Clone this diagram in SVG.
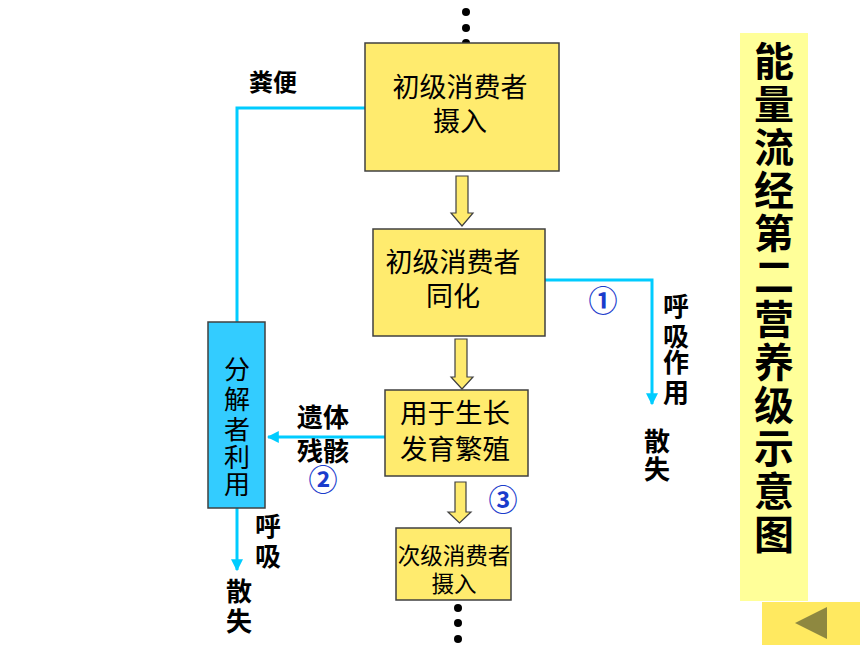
<svg xmlns="http://www.w3.org/2000/svg" width="860" height="645" viewBox="0 0 860 645">
<style>
.box{fill:#FFEB6E;stroke:#404040;stroke-width:1.5}
.dec{fill:#33CCFF;stroke:#404040;stroke-width:1.5}
.t{font-family:"Noto Sans CJK SC","Liberation Sans",sans-serif;fill:#000;text-anchor:middle}
.b{font-weight:bold}
.num{font-family:"Noto Sans CJK SC","DejaVu Sans",sans-serif;fill:#1A3CCC;text-anchor:middle;font-size:29px;font-weight:bold}
.flow{fill:none;stroke:#00CCFF;stroke-width:3}
.blk{fill:#FFEB6E;stroke:#404040;stroke-width:1.2}
.dot{fill:#000}
</style>
<defs>
<marker id="ah" viewBox="0 0 10 10" refX="9" refY="5" markerWidth="4" markerHeight="4" orient="auto" markerUnits="strokeWidth">
<path d="M0,0 L10,5 L0,10 z" fill="#00CCFF"/>
</marker>
</defs>
<rect width="860" height="645" fill="#fff"/>

<g id="title">
<rect x="740" y="33" width="68" height="568" fill="#FFFF99"/>
<text class="t b" font-size="40" x="774">
<tspan x="774" y="76">能</tspan><tspan x="774" y="119">量</tspan><tspan x="774" y="162">流</tspan><tspan x="774" y="205">经</tspan><tspan x="774" y="248">第</tspan><tspan x="774" y="291">二</tspan><tspan x="774" y="334">营</tspan><tspan x="774" y="377">养</tspan><tspan x="774" y="420">级</tspan><tspan x="774" y="463">示</tspan><tspan x="774" y="506">意</tspan><tspan x="774" y="549">图</tspan>
</text>
</g>

<g id="back">
<rect x="762" y="602" width="98" height="43" fill="#FFE960"/>
<polygon points="795,623 827,607 827,639" fill="#8E8840"/>
</g>

<g id="dots-top">
<circle class="dot" cx="466" cy="12" r="4"/>
<circle class="dot" cx="466" cy="28" r="4"/>
<circle class="dot" cx="466" cy="43" r="4"/>
</g>

<g id="connectors">
<polyline class="flow" points="365,108 237,108 237,355"/>
<polyline class="flow" points="545,280 652,280 652,404" marker-end="url(#ah)"/>
<line class="flow" x1="385" y1="437" x2="268" y2="437" marker-end="url(#ah)"/>
<line class="flow" x1="237" y1="508" x2="237" y2="570" marker-end="url(#ah)"/>
<polygon class="blk" points="456,176 468,176 468,213 473,213 462,226 451,213 456,213"/>
<polygon class="blk" points="455,339 467,339 467,377 473,377 462,389 451,377 455,377"/>
<polygon class="blk" points="455,482 466,482 466,512 471,512 459.5,523 448,512 455,512"/>
</g>

<g id="n1">
<rect class="box" x="365" y="43" width="194" height="128"/>
<text class="t" font-size="27" x="460" y="97">初级消费者</text>
<text class="t" font-size="27" x="460" y="131">摄入</text>
</g>

<g id="n2">
<rect class="box" x="373" y="229" width="172" height="107"/>
<text class="t" font-size="27" x="453" y="272">初级消费者</text>
<text class="t" font-size="27" x="453" y="306">同化</text>
</g>

<g id="n3">
<rect class="box" x="385" y="390" width="143" height="86"/>
<text class="t" font-size="27.5" x="455" y="423">用于生长</text>
<text class="t" font-size="27.5" x="455" y="459">发育繁殖</text>
</g>

<g id="n4">
<rect class="box" x="396" y="528" width="115" height="72"/>
<text class="t" font-size="22.5" x="454" y="564">次级消费者</text>
<text class="t" font-size="22.5" x="454" y="592">摄入</text>
</g>

<g id="dec">
<rect class="dec" x="208" y="322" width="57" height="186"/>
<text class="t" font-size="26">
<tspan x="237" y="379">分</tspan><tspan x="237" y="409">解</tspan><tspan x="237" y="439">者</tspan><tspan x="237" y="467">利</tspan><tspan x="237" y="494">用</tspan>
</text>
</g>

<g id="dots-bottom">
<circle class="dot" cx="458" cy="608" r="4"/>
<circle class="dot" cx="458" cy="623" r="4"/>
<circle class="dot" cx="458" cy="639" r="4"/>
</g>

<g id="labels">
<text class="t b" font-size="24" x="273" y="91">粪便</text>
<text class="num" x="603" y="312">①</text>
<text class="t b" font-size="26"><tspan x="676" y="316">呼</tspan><tspan x="676" y="346">吸</tspan><tspan x="676" y="372">作</tspan><tspan x="676" y="402">用</tspan></text>
<text class="t b" font-size="26"><tspan x="657" y="451">散</tspan><tspan x="657" y="479">失</tspan></text>
<text class="t b" font-size="26" x="323" y="427">遗体</text>
<text class="t b" font-size="26" x="323" y="461">残骸</text>
<text class="num" x="323" y="491">②</text>
<text class="num" x="503" y="511">③</text>
<text class="t b" font-size="26"><tspan x="268" y="536">呼</tspan><tspan x="268" y="566">吸</tspan></text>
<text class="t b" font-size="26"><tspan x="239" y="601">散</tspan><tspan x="239" y="631">失</tspan></text>
</g>
</svg>
